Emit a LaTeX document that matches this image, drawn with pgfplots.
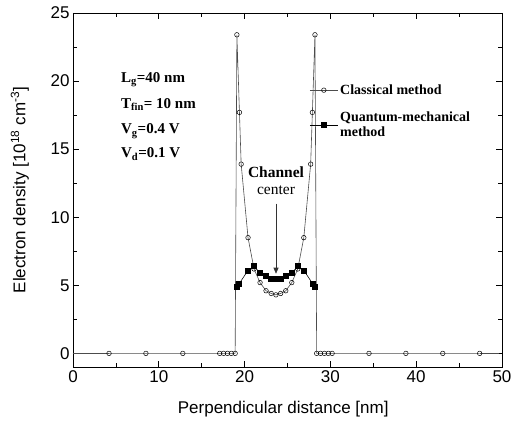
\documentclass[border=0pt]{standalone}
\usepackage{fontspec}
\setmainfont{Liberation Serif}
\setsansfont{Liberation Sans}
\usepackage{pgfplots}
\pgfplotsset{compat=1.18}
\usetikzlibrary{arrows.meta}

\begin{document}
\begin{tikzpicture}
\begin{axis}[
  scale only axis, width=429bp, height=354bp,
  xmin=0, xmax=50, ymin=-1, ymax=25,
  xtick={0,10,...,50}, ytick={0,5,...,25},
  minor x tick num=1, minor y tick num=1,
  major tick length=6bp, minor tick length=4bp,
  axis line style={line width=0.9pt},
  every tick/.style={black, line width=0.8pt},
  /pgf/number format/assume math mode=true,
  tick label style={font=\sffamily\fontsize{17bp}{20bp}\selectfont},
  label style={font=\sffamily\fontsize{17bp}{20bp}\selectfont},
  xlabel={Perpendicular distance [nm]},
  ylabel={Electron density [10\textsuperscript{18} cm\textsuperscript{-3}]},
  xlabel style={at={(axis description cs:0.49,-0.119)}, anchor=center},
  ylabel style={at={(axis description cs:-0.124,0.5)}, anchor=center},
  legend style={draw=none, fill=none, at={(axis cs:27.2,20.05)}, anchor=north west,
    font=\bfseries\fontsize{14bp}{15.5bp}\selectfont,
    cells={anchor=west, align=left}, row sep=12bp},
  legend image code/.code={\draw[mark repeat=2,mark phase=2] plot coordinates {(0bp,0bp) (14bp,0bp) (28bp,0bp)};},
]
% baseline segments (no markers)
\addplot[forget plot, gray!60!black, line width=0.6pt] coordinates {(0,0) (4.2,0)};
\addplot[forget plot, gray!60!black, line width=0.6pt] coordinates {(47.4,0) (49.6,0)};
% Classical method
\addplot[gray!60!black, line width=0.6pt, mark=o, mark size=2.3pt,
  mark options={black, line width=0.5pt, fill=white, solid}] coordinates {
  (4.2,0) (8.5,0) (12.8,0) (17.1,0) (17.55,0) (18.0,0) (18.45,0) (18.9,0)
  (19.1,23.4) (19.4,17.7) (19.6,13.9) (20.4,8.5) (21.1,6.2) (21.8,5.2)
  (22.5,4.6) (23.1,4.4) (23.65,4.3) (24.2,4.4) (24.8,4.6) (25.5,5.2)
  (26.2,6.2) (26.9,8.5) (27.7,13.9) (27.9,17.7) (28.2,23.4)
  (28.4,0) (28.85,0) (29.3,0) (29.75,0) (30.2,0) (34.5,0) (38.8,0) (43.1,0) (47.4,0)
};
\addlegendentry{Classical method}
% Quantum-mechanical method
\addplot[black, line width=0.6pt, mark=square*, mark size=2.5pt] coordinates {
  (19.1,4.9) (19.35,5.1) (20.4,6.1) (21.1,6.4) (21.8,5.9) (22.5,5.7)
  (23.1,5.5) (23.65,5.5) (24.2,5.5) (24.8,5.7) (25.5,5.9) (26.2,6.4)
  (26.9,6.1) (27.95,5.1) (28.2,4.9)
};
\addlegendentry{Quantum-mechanical\\method}
% annotations
\node[anchor=base west, font=\bfseries\fontsize{15bp}{17bp}\selectfont] at (axis cs:5.2,19.92) {L\textsubscript{g}=40 nm};
\node[anchor=base west, font=\bfseries\fontsize{15bp}{17bp}\selectfont] at (axis cs:5.2,18.02) {T\textsubscript{fin}= 10 nm};
\node[anchor=base west, font=\bfseries\fontsize{15bp}{17bp}\selectfont] at (axis cs:5.2,16.12) {V\textsubscript{g}=0.4 V};
\node[anchor=base west, font=\bfseries\fontsize{15bp}{17bp}\selectfont] at (axis cs:5.2,14.36) {V\textsubscript{d}=0.1 V};
\node[font=\bfseries\fontsize{15.5bp}{17bp}\selectfont] at (axis cs:23.66,13.3) {Channel};
\node[font=\fontsize{15.5bp}{17bp}\selectfont] at (axis cs:23.66,11.95) {center};
\draw[-{Triangle[length=6bp,width=5bp]}, line width=0.6pt, gray!40!black] (axis cs:23.66,11.0) -- (axis cs:23.66,5.85);
\end{axis}
\pgfresetboundingbox
\path (current axis.south west) ++(-73bp,-65bp) rectangle ++(527bp,432bp);
\end{tikzpicture}
\end{document}
